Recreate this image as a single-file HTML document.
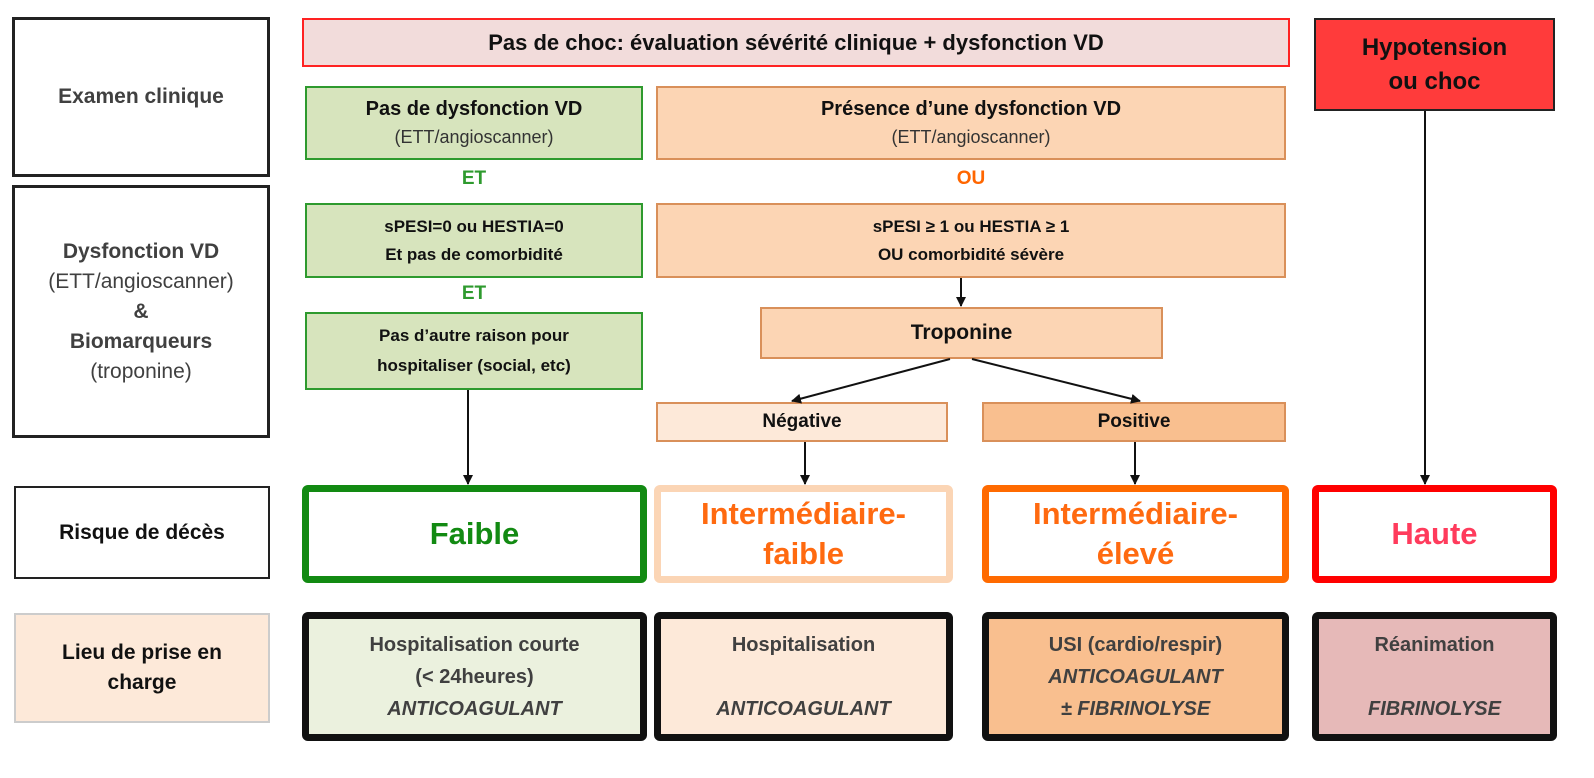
<!DOCTYPE html>
<html><head><meta charset="utf-8"><style>
body{margin:0;width:1594px;height:778px;background:#fff;position:relative;overflow:hidden;font-family:"Liberation Sans",sans-serif;}
.b{position:absolute;box-sizing:border-box;display:flex;flex-direction:column;align-items:center;justify-content:center;text-align:center;}
.t{position:absolute;text-align:center;font-weight:bold;}
.lab{border:3px solid #222;color:#404040;font-weight:bold;font-size:21px;line-height:30px;}
.g{background:#d7e4bd;border:2px solid #2e9a2e;color:#111;}
.o{background:#fcd5b4;border:2px solid #d9905a;color:#111;}
.r{border-width:7px;border-style:solid;border-radius:6px;background:#fff;font-weight:bold;font-size:31px;line-height:40px;}
.l{border:7px solid #111;border-radius:6px;color:#404040;font-size:20px;line-height:32px;}
i{font-weight:bold;}
</style></head><body>
<div class="b lab" style="left:12px;top:17px;width:258px;height:160px;">Examen clinique</div>
<div class="b lab" style="left:12px;top:185px;width:258px;height:253px;">Dysfonction VD<span style="font-weight:normal">(ETT/angioscanner)</span>&amp;<span>Biomarqueurs</span><span style="font-weight:normal">(troponine)</span></div>
<div class="b lab" style="left:14px;top:486px;width:256px;height:93px;color:#111;border-width:2px;">Risque de décès</div>
<div class="b lab" style="left:14px;top:613px;width:256px;height:110px;color:#111;background:#fde9d9;border:2px solid #ccc;">Lieu de prise en<br>charge</div>

<div class="b" style="left:302px;top:18px;width:988px;height:49px;background:#f2dcdb;border:2px solid #f22;font-weight:bold;font-size:22px;color:#111;">Pas de choc: évaluation sévérité clinique + dysfonction VD</div>
<div class="b" style="left:1314px;top:18px;width:241px;height:93px;background:#ff3b3b;border:2px solid #222;font-weight:bold;font-size:24px;line-height:34px;color:#111;">Hypotension<br>ou choc</div>

<div class="b g" style="left:305px;top:86px;width:338px;height:74px;font-size:20px;line-height:28px;"><b>Pas de dysfonction VD</b><span style="font-size:18px;color:#333">(ETT/angioscanner)</span></div>
<div class="t" style="left:305px;top:168px;width:338px;color:#2e9a2e;font-size:19px;">ET</div>
<div class="b g" style="left:305px;top:203px;width:338px;height:75px;font-weight:bold;font-size:17px;line-height:28px;">sPESI=0 ou HESTIA=0<br>Et pas de comorbidité</div>
<div class="t" style="left:305px;top:283px;width:338px;color:#2e9a2e;font-size:19px;">ET</div>
<div class="b g" style="left:305px;top:312px;width:338px;height:78px;font-weight:bold;font-size:17px;line-height:30px;">Pas d’autre raison pour<br>hospitaliser (social, etc)</div>

<div class="b o" style="left:656px;top:86px;width:630px;height:74px;font-size:20px;line-height:28px;"><b>Présence d’une dysfonction VD</b><span style="font-size:18px;color:#333">(ETT/angioscanner)</span></div>
<div class="t" style="left:656px;top:168px;width:630px;color:#ff6600;font-size:19px;">OU</div>
<div class="b o" style="left:656px;top:203px;width:630px;height:75px;font-weight:bold;font-size:17px;line-height:28px;">sPESI ≥ 1 ou HESTIA ≥ 1<br>OU comorbidité sévère</div>
<div class="b o" style="left:760px;top:307px;width:403px;height:52px;font-weight:bold;font-size:21px;">Troponine</div>
<div class="b o" style="left:656px;top:402px;width:292px;height:40px;background:#fde9d9;font-weight:bold;font-size:19px;">Négative</div>
<div class="b o" style="left:982px;top:402px;width:304px;height:40px;background:#f9bf8f;font-weight:bold;font-size:19px;">Positive</div>

<svg style="position:absolute;left:0;top:0" width="1594" height="778">
<defs><marker id="a" markerWidth="10" markerHeight="10" refX="9" refY="5" orient="auto" markerUnits="userSpaceOnUse"><path d="M0,0 L10,5 L0,10 z" fill="#111"/></marker></defs>
<g stroke="#111" stroke-width="2" fill="none" marker-end="url(#a)">
<line x1="961" y1="278" x2="961" y2="306"/>
<line x1="950" y1="359" x2="792" y2="401"/>
<line x1="972" y1="359" x2="1140" y2="401"/>
<line x1="468" y1="390" x2="468" y2="484"/>
<line x1="805" y1="442" x2="805" y2="484"/>
<line x1="1135" y1="442" x2="1135" y2="484"/>
<line x1="1425" y1="111" x2="1425" y2="484"/>
</g></svg>

<div class="b r" style="left:302px;top:485px;width:345px;height:98px;border-color:#128a12;color:#128a12;">Faible</div>
<div class="b r" style="left:654px;top:485px;width:299px;height:98px;border-color:#fbd5b5;color:#ff6a10;">Intermédiaire-<br>faible</div>
<div class="b r" style="left:982px;top:485px;width:307px;height:98px;border-color:#ff6a00;color:#ff6a10;">Intermédiaire-<br>élevé</div>
<div class="b r" style="left:1312px;top:485px;width:245px;height:98px;border-color:#ff0000;color:#ff3b5c;">Haute</div>

<div class="b l" style="left:302px;top:612px;width:345px;height:129px;background:#ebf1de;"><b>Hospitalisation courte</b><b>(&lt; 24heures)</b><i>ANTICOAGULANT</i></div>
<div class="b l" style="left:654px;top:612px;width:299px;height:129px;background:#fde9d9;"><b>Hospitalisation</b><span>&nbsp;</span><i>ANTICOAGULANT</i></div>
<div class="b l" style="left:982px;top:612px;width:307px;height:129px;background:#f9bf8f;"><b>USI (cardio/respir)</b><i>ANTICOAGULANT</i><i>± FIBRINOLYSE</i></div>
<div class="b l" style="left:1312px;top:612px;width:245px;height:129px;background:#e6b9b8;"><b>Réanimation</b><span>&nbsp;</span><i>FIBRINOLYSE</i></div>
</body></html>
